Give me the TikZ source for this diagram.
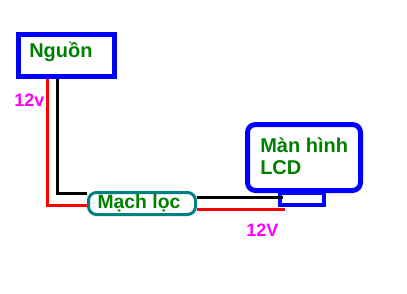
\documentclass[tikz,border=0pt]{standalone}
\usepackage{fontspec}
\setmainfont{Liberation Sans}
\usepackage{xcolor}
\usetikzlibrary{positioning}

\definecolor{txtgreen}{RGB}{0,128,0}
\definecolor{boxblue}{RGB}{0,0,255}
\definecolor{locteal}{RGB}{0,128,128}
\definecolor{voltmag}{RGB}{255,0,255}
\definecolor{wirered}{RGB}{255,0,0}

\tikzset{
  bluebox/.style={draw=boxblue, line width=3.75pt, fill=white, inner sep=0pt},
  locbox/.style={draw=locteal, line width=2.25pt, fill=white, rounded corners=6pt, inner sep=0pt},
  boxtext/.style={text=txtgreen, font=\bfseries\fontsize{15}{16}\selectfont, inner sep=0.75pt},
  volttext/.style={text=voltmag, font=\bfseries\fontsize{13.5}{15}\selectfont, inner sep=0.75pt},
  redwire/.style={draw=wirered, line width=2.25pt},
  blackwire/.style={draw=black, line width=2.25pt},
}

\begin{document}
\begin{tikzpicture}[x=0.75pt,y=0.75pt,yscale=-1,xscale=1]
\useasboundingbox (0,0) rectangle (407,293);

% Nguon box
\node [bluebox, minimum width=72pt, minimum height=31.5pt] (nguon) at (66.5,55.5) {};
% Text Node
\draw (28,57) node [boxtext, anchor=base west] (nguonText) {Nguồn};

% LCD screen
\node [bluebox, rounded corners=6pt, minimum width=84.75pt, minimum height=49.5pt] (lcd) at (304,157.5) {};
\node [bluebox, line width=3pt, minimum width=33pt, minimum height=9pt] (stand) at (302,199) {};
% Text Node
\draw (259,174) node [boxtext, anchor=base west, align=left] (lcdText) {Màn hình\\LCD};

% Mach loc box
\node [locbox, minimum width=80.25pt, minimum height=16.5pt] (loc) at (142,203.5) {};
% Text Node
\draw (loc.center) ++(-3,0) node [boxtext, font=\bfseries\fontsize{14.5}{16}\selectfont] (locText) {Mạch lọc};

% wires
\coordinate (rA) at (47,205);
\coordinate (bA) at (57,193);
\coordinate (bB) at (283,197);
\coordinate (rB) at (285,209);
\draw [redwire] (nguon.south -| rA) -- (rA) -- (rA -| loc.west);
\draw [blackwire] (nguon.south -| bA) -- (bA) -- (bA -| loc.north west);
\draw [blackwire] (loc.east |- bB) -- (bB);
\draw [redwire] (loc.east |- rB) -- (rB);

% Text Node
\draw (13,100) node [volttext, anchor=west] (v1) {12v};
% Text Node
\draw (245,230) node [volttext, anchor=west] (v2) {12V};

\end{tikzpicture}
\end{document}
